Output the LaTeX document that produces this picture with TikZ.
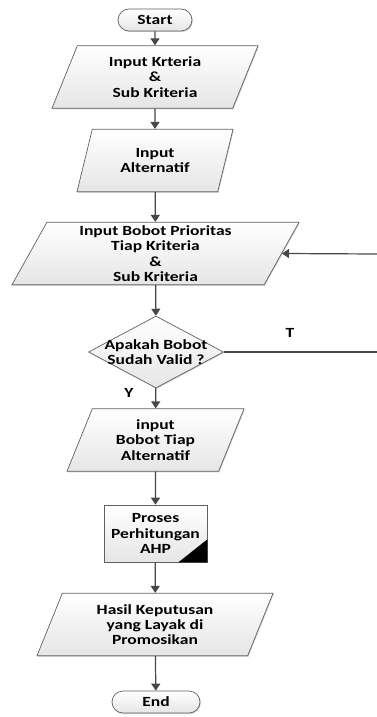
\documentclass[tikz,border=0pt]{standalone}
\usepackage{fontspec}
\setmainfont{Carlito}[FakeStretch=1.25]
\usetikzlibrary{arrows.meta, positioning, shapes.geometric, shapes.misc, shadows}

\begin{document}
\begin{tikzpicture}[x=1pt, y=-1pt,
      font=\fontsize{14}{15.3}\selectfont\bfseries,
      base/.style={draw=gray!75!black, line width=0.7pt, top color=white, bottom color=gray!20, align=center, inner sep=0pt,
        drop shadow={shadow xshift=0.8pt, shadow yshift=-1pt, opacity=0.35, fill=gray}},
      io/.style={base, trapezium, trapezium left angle=58, trapezium right angle=122, trapezium stretches body, minimum height=62.5pt},
      term/.style={base, rounded rectangle, minimum height=22pt},
      decision/.style={base, diamond, minimum width=135pt, minimum height=72pt},
      proc/.style={base, rectangle, minimum width=103pt, minimum height=57pt},
      line/.style={draw=black!72, line width=1.2pt},
      arrow/.style={line, -{Triangle[width=9pt,length=7pt]}}]

      \useasboundingbox (0,0) rectangle (377,717);

      \node[term, minimum width=74pt] (start) at (155,20) {Start};
      \node[io, minimum width=206pt] (kriteria) at (155,77) {Input Krteria\\\&\\Sub Kriteria};
      \node[io, minimum width=156pt] (alternatif) at (155,160.5) {Input\\Alternatif};
      \node[io, minimum width=287pt] (bobot) at (155.5,253.5) {Input Bobot Prioritas\\Tiap Kriteria\\\&\\Sub Kriteria};
      \node[decision] (valid) at (156,352) {};
      \node[align=center] at (valid) {Apakah Bobot\\Sudah Valid ?};
      \node[io, minimum width=177pt] (bobotalt) at (155.5,440) {input\\Bobot Tiap\\Alternatif};
      \node[proc] (ahp) at (155.5,533.5) {Proses\\Perhitungan\\AHP};
      \node[io, minimum width=236pt] (hasil) at (155,624.5) {Hasil Keputusan\\yang Layak di\\Promosikan};
      \node[term, minimum width=88pt] (end) at (156,702) {End};

      % corner mark of the process box
      \fill (ahp.south east) -- ++(-29,0) -- ++(29,-23) -- cycle;

      % Arrows
      \draw[arrow] (start) -- (kriteria);
      \draw[arrow] (kriteria) -- (alternatif);
      \draw[arrow] (alternatif) -- (bobot);
      \draw[arrow] (bobot) -- (valid);
      \draw[arrow] (valid) -- (bobotalt);
      \draw[arrow] (bobotalt) -- (ahp);
      \draw[arrow] (ahp) -- (hasil);
      \draw[arrow] (hasil) -- (end);

      % loop back (cut at the right edge)
      \coordinate (back) at (377,254);
      \coordinate (tback) at (377,352);
      \draw[arrow] (back) -- (bobot.east);
      \draw[line] (valid.east) -- (tback);

      \node (t) at (290,333) {T};
      \node (y) at (129,393) {Y};
\end{tikzpicture}
\end{document}
